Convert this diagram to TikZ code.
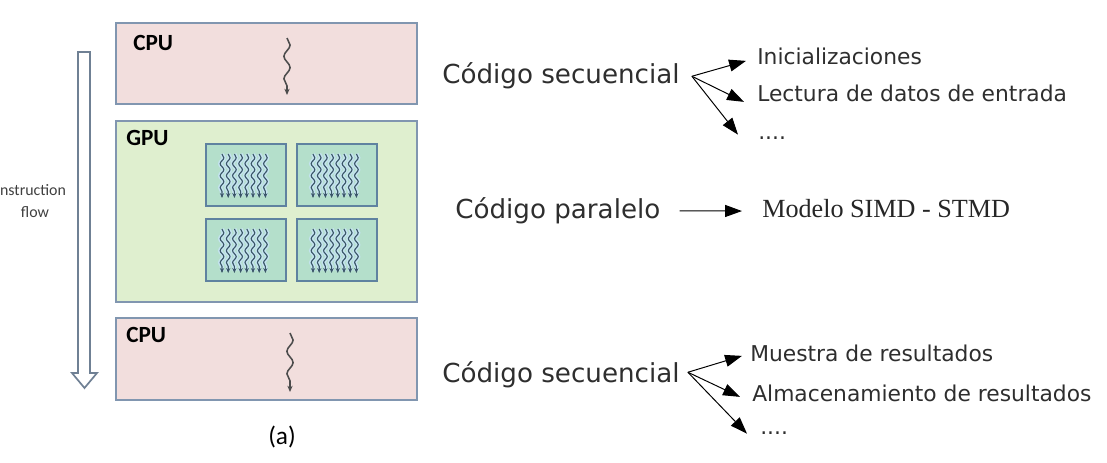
\documentclass[tikz,border=0pt]{standalone}
\usepackage{fontspec}
\setmainfont{DejaVu Sans}
\newfontfamily\calfont{Carlito}
\newfontfamily\timesfont{Liberation Serif}
\usetikzlibrary{arrows.meta,decorations.pathmorphing,calc}

\definecolor{cpufill}{HTML}{F2DEDD}
\definecolor{gpufill}{HTML}{DFEFCF}
\definecolor{smfill}{HTML}{B4DFCB}
\definecolor{boxline}{HTML}{8196B0}
\definecolor{smline}{HTML}{5F82A0}
\definecolor{threaddark}{HTML}{3A5668}
\definecolor{threadhalo}{HTML}{C4E3EF}
\definecolor{txtgray}{HTML}{2E2E2E}
\definecolor{flowgray}{HTML}{6F8094}

\begin{document}
\begin{tikzpicture}[x=0.025cm, y=-0.025cm,
    cpubox/.style={draw=boxline, line width=1pt, fill=cpufill},
    gpubox/.style={draw=boxline, line width=1pt, fill=gpufill},
    smbox/.style={draw=smline, line width=0.9pt, fill=smfill},
    unit/.style={font=\calfont\bfseries\fontsize{16.5}{18}\selectfont, anchor=base west, inner sep=0pt},
    big/.style={font=\fontsize{18.6}{22}\selectfont, text=txtgray, anchor=base west, inner sep=0pt},
    small/.style={font=\fontsize{15.5}{18}\selectfont, text=txtgray, anchor=base west, inner sep=0pt},
    serif/.style={font=\timesfont\fontsize{18.6}{22}\selectfont, text=black!85, anchor=base west, inner sep=0pt},
    instr/.style={font=\calfont\fontsize{11.3}{13}\selectfont, text=black!75, inner sep=0pt},
    tip/.style={-{Triangle[length=12pt,width=8.5pt]}, line width=0.7pt},
    cthread/.style={decorate, decoration={snake, amplitude=2.2pt, segment length=16pt, post length=6pt},
        -{Stealth[length=4.5pt,width=3.8pt]}, line width=1.1pt, draw=black!70},
    ghalo/.style={decorate, decoration={snake, amplitude=1.3pt, segment length=8.5pt, post length=3pt},
        line width=3pt, draw=threadhalo},
    gthread/.style={decorate, decoration={snake, amplitude=1.3pt, segment length=8.5pt, post length=3pt},
        -{Stealth[length=3.5pt,width=3pt]}, line width=0.8pt, draw=threaddark},
    flowarrow/.style={draw=flowgray, line width=1.2pt, fill=white}
]
    \useasboundingbox (0,0) rectangle (1107,462);

    % Instruction flow
    \draw[flowarrow] (78,52) -- (90,52) -- (90,373) -- (97,373) -- (84.5,388)
        -- (72,373) -- (78,373) -- cycle;
    \node[instr] (ins) at (33,190) {nstruction};
    \node[instr] (flow) at (35,212) {flow};

    % CPU (top)
    \draw[cpubox] (116,23) rectangle (417,104);
    \node[unit] (cpu1) at (133,50) {CPU};
    \draw[cthread] (287,38) -- (287,95);

    % GPU
    \draw[gpubox] (116,121) rectangle (417,302);
    \node[unit] (gpu) at (126,145) {GPU};
    \foreach \bx/\by in {206/144, 297/144, 206/219, 297/219} {
        \draw[smbox] (\bx,\by) rectangle ++(80,62);
        \foreach \i in {0,...,7}
            \draw[ghalo] (\bx+16+6.2*\i,\by+10) -- ++(0,42);
        \foreach \i in {0,...,7}
            \draw[gthread] (\bx+16+6.2*\i,\by+10) -- ++(0,44);
    }

    % CPU (bottom)
    \draw[cpubox] (116,318) rectangle (417,400);
    \node[unit] (cpu2) at (126,342) {CPU};
    \draw[cthread] (290,333) -- (290,392);

    \node[font=\calfont\fontsize{18}{20}\selectfont] (cap) at (282,437) {(a)};

    % Sequential code (top)
    \node[big] (seq1) at (442,83) {Código secuencial};
    \node[small] (ini) at (757,64) {Inicializaciones};
    \node[small] (lec) at (757,101) {Lectura de datos de entrada};
    \node[small] (dots1) at (758,139) {....};
    \coordinate (s1) at ($(seq1.east)+(12,1)$);
    \draw[tip] (s1) -- ($(ini.west)+(-11,5)$);
    \draw[tip] (s1) -- ($(lec.west)+(-13,9)$);
    \draw[tip] (s1) -- ($(dots1.west)+(-20,-3)$);

    % Parallel code
    \node[big] (par) at (455,218) {Código paralelo};
    \node[serif] (simd) at (762,217) {Modelo SIMD - STMD};
    \draw[tip] ($(par.east)+(19,0.5)$) -- ($(simd.west)+(-20,3)$);

    % Sequential code (bottom)
    \node[big] (seq2) at (442,382) {Código secuencial};
    \node[small] (mue) at (750,361) {Muestra de resultados};
    \node[small] (alm) at (752,401) {Almacenamiento de resultados};
    \node[small] (dots2) at (760,434) {....};
    \coordinate (s2) at ($(seq2.east)+(8,-2)$);
    \draw[tip] (s2) -- ($(mue.west)+(-8,3)$);
    \draw[tip] (s2) -- ($(alm.west)+(-12,4)$);
    \draw[tip] (s2) -- ($(dots2.west)+(-13,1)$);

\end{tikzpicture}
\end{document}
